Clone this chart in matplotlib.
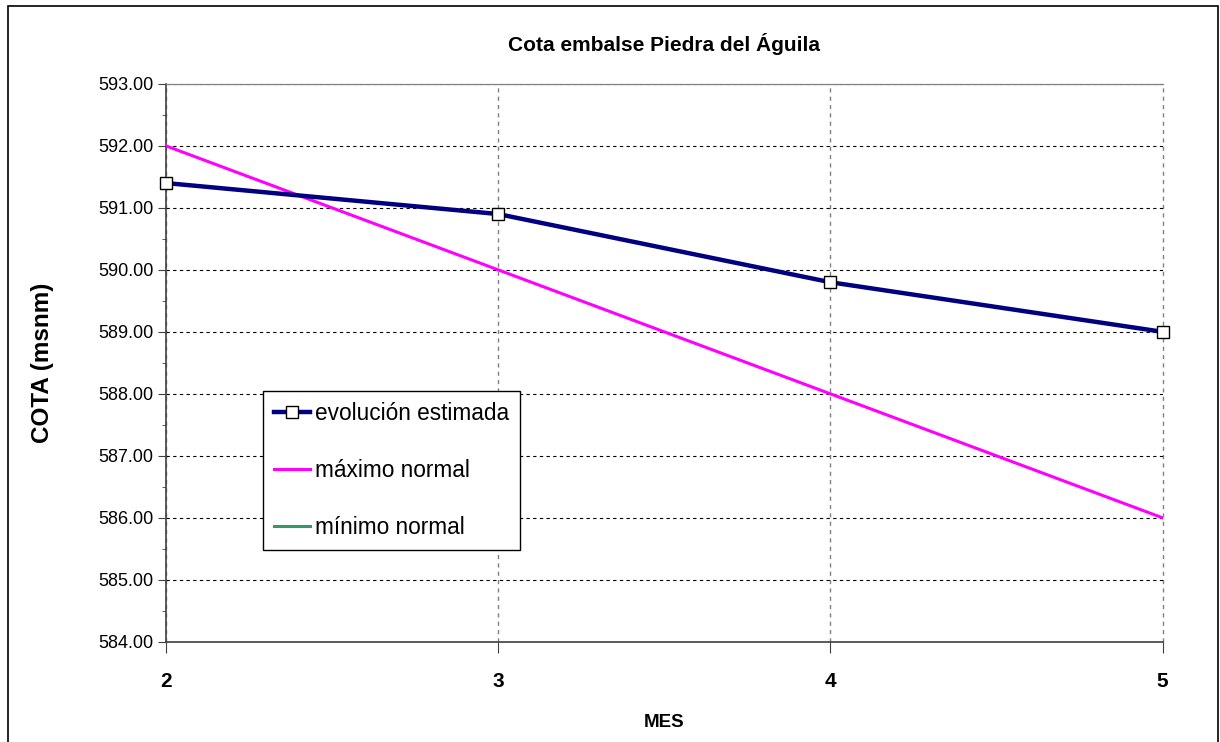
import numpy as np
import matplotlib.pyplot as plt
from matplotlib.patches import Rectangle
from matplotlib.ticker import MultipleLocator, FormatStrFormatter

############### Data ###############
meses = [2, 3, 4, 5]
evolucion = [591.4, 590.9, 589.8, 589.0]
maximo = [592.0, 590.0, 588.0, 586.0]
minimo = []  # fuera de rango, solo aparece en la leyenda

plt.rcParams["font.family"] = ["Liberation Sans", "DejaVu Sans"]

############### Plot ###############
fig = plt.figure(figsize=(12.2, 7.42), dpi=100)
ax = fig.add_axes([0.136, 0.135, 0.817, 0.752])

# marco exterior del grafico
fig.patches.append(Rectangle((0.0066, -0.05), 0.992, 1.042, transform=fig.transFigure,
                             fill=False, edgecolor="black", linewidth=1.2))

ax.plot(meses, maximo, color="#FF00FF", linewidth=2.2, label="máximo normal", zorder=3)
ax.plot(meses, evolucion, color="#000080", linewidth=3.2, marker="s", markersize=9,
        markerfacecolor="white", markeredgecolor="black", markeredgewidth=1.0,
        label="evolución estimada", zorder=4, clip_on=False)
ax.plot(minimo, minimo, color="#339966", linewidth=2.2, label="mínimo normal")

ax.set_xlim(2, 5)
ax.set_ylim(584, 593)
ax.set_xticks(meses)
ax.yaxis.set_major_locator(MultipleLocator(1))
ax.yaxis.set_minor_locator(MultipleLocator(0.5))
ax.yaxis.set_major_formatter(FormatStrFormatter("%.2f"))

ax.grid(axis="y", which="major", linestyle=(0, (3, 3)), color="black", linewidth=0.8)
ax.grid(axis="x", which="major", linestyle=(0, (3, 3)), color="#808080", linewidth=1.0)
for gl in ax.get_xgridlines():
    gl.set_clip_on(False)

for s in ["left", "bottom"]:
    ax.spines[s].set_color("#404040")
    ax.spines[s].set_linewidth(1.2)
ax.spines["top"].set_color("#808080")
ax.spines["top"].set_linewidth(0.9)
ax.spines["right"].set_visible(False)

ax.tick_params(axis="y", which="major", direction="out", length=6, labelsize=13,
               pad=3, color="#404040")
ax.tick_params(axis="y", which="minor", direction="out", length=3, color="#404040")
ax.tick_params(axis="x", direction="out", length=8, labelsize=15, pad=14, color="#404040")
for lbl in ax.get_xticklabels():
    lbl.set_fontweight("bold")

ax.set_title("Cota embalse Piedra del Águila", fontsize=15, fontweight="bold", pad=24)
ax.set_xlabel("MES", fontsize=13.5, fontweight="bold", labelpad=16)
ax.set_ylabel("COTA (msnm)", fontsize=17.5, fontweight="bold", labelpad=32)

handles, labels = ax.get_legend_handles_labels()
order = [1, 0, 2]
leg = ax.legend([handles[i] for i in order], [labels[i] for i in order],
                loc="upper left", bbox_to_anchor=(0.0973, 0.45), fontsize=16.3,
                frameon=True, fancybox=False, edgecolor="black", framealpha=1,
                labelspacing=1.5, handlelength=1.6, handletextpad=0.2,
                borderpad=0.5, borderaxespad=0)
leg.get_frame().set_linewidth(1.0)

fig.savefig("out.png", dpi=100)
